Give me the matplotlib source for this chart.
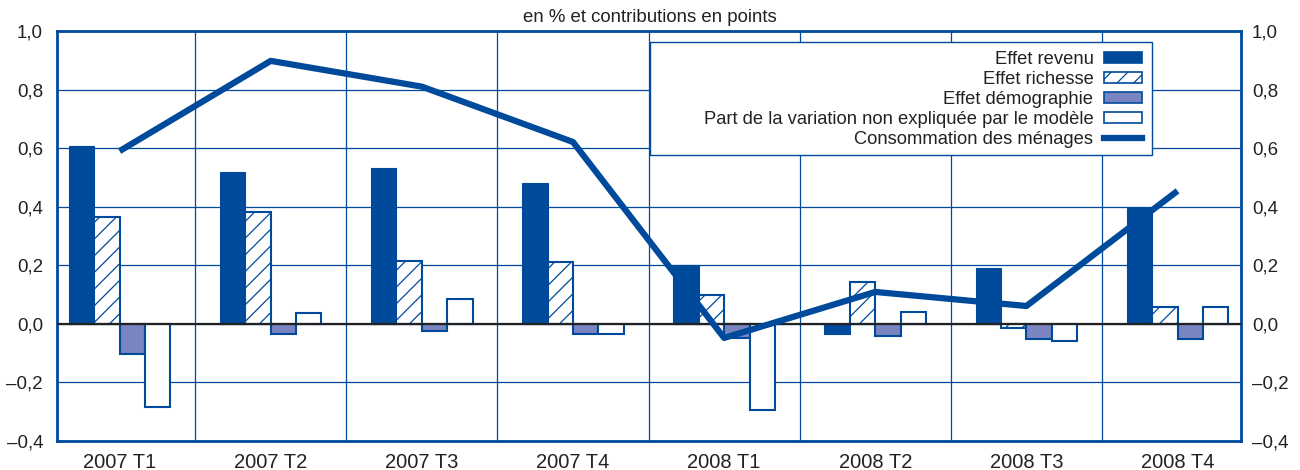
import matplotlib
matplotlib.use("Agg")
import matplotlib.pyplot as plt
import numpy as np
from matplotlib.patches import Patch, Rectangle
from matplotlib.lines import Line2D

categories = ["2007 T1", "2007 T2", "2007 T3", "2007 T4", "2008 T1", "2008 T2", "2008 T3", "2008 T4"]
effet_revenu = [0.607, 0.518, 0.532, 0.481, 0.201, -0.036, 0.192, 0.397]
effet_richesse = [0.364, 0.381, 0.213, 0.212, 0.100, 0.144, -0.014, 0.056]
effet_demo = [-0.102, -0.034, -0.025, -0.035, -0.049, -0.043, -0.052, -0.051]
part_non_expl = [-0.284, 0.036, 0.084, -0.036, -0.293, 0.039, -0.060, 0.057]
consommation = [0.590, 0.898, 0.810, 0.621, -0.048, 0.109, 0.061, 0.454]
yticks = [-0.4, -0.2, 0.0, 0.2, 0.4, 0.6, 0.8, 1.0]

plt.rcParams['font.family'] = ['Liberation Sans', 'DejaVu Sans']
plt.rcParams['hatch.color'] = '#004A9B'
plt.rcParams['hatch.linewidth'] = 0.9

BLUE = '#004A9B'
DEMO = '#7A84C0'
W, H = 1300, 470

fig = plt.figure(figsize=(13, 4.7), dpi=100)
ax = fig.add_axes([57 / W, 1 - 441 / H, (1241 - 57) / W, (441 - 31) / H])

x = np.arange(len(categories))
w = 0.168
ax.bar(x - 1.5 * w, effet_revenu, w, color=BLUE, edgecolor=BLUE, linewidth=0.8, zorder=3)
ax.bar(x - 0.5 * w, effet_richesse, w, color='white', edgecolor=BLUE, hatch='//', linewidth=1.5, zorder=3)
ax.bar(x + 0.5 * w, effet_demo, w, color=DEMO, edgecolor=BLUE, linewidth=1.5, zorder=3)
ax.bar(x + 1.5 * w, part_non_expl, w, color='white', edgecolor=BLUE, linewidth=1.5, zorder=3)
ax.plot(x, consommation, color=BLUE, linewidth=4.5, zorder=4, solid_capstyle='butt')

ax.axhline(0, color='#222222', linewidth=1.6, zorder=3.5)

ax.set_xlim(-0.414, 7.42)
ax.set_ylim(-0.4, 1.0)
ax.set_yticks(yticks)
fmt = lambda v: ("\u2013" if v < -1e-9 else "") + f"{abs(v):.1f}".replace('.', ',')
ax.set_yticklabels([fmt(v) for v in yticks])
ax.set_xticks(x)
ax.set_xticklabels(categories)
ax.set_xticks(x[:-1] + 0.5, minor=True)
ax.grid(False)
ax.grid(True, which='minor', axis='x', color=BLUE, linewidth=0.9, zorder=0)
for v in yticks:
    ax.axhline(v, color=BLUE, linewidth=0.9, zorder=0)
ax.tick_params(axis='y', which='both', length=0, labelsize=13.5, colors='#222222', pad=10)
ax.tick_params(axis='x', which='both', length=0, labelsize=14.5, colors='#222222', pad=9)
for s in ax.spines.values():
    s.set_color(BLUE)
    s.set_linewidth(2)

ax2 = ax.twinx()
ax2.set_ylim(-0.4, 1.0)
ax2.set_yticks(yticks)
ax2.set_yticklabels([fmt(v) for v in yticks])
ax2.tick_params(axis='y', length=0, labelsize=13.5, colors='#222222', pad=8)
for s in ax2.spines.values():
    s.set_visible(False)

fig.text(0.5, 1 - 18 / H, "en % et contributions en points", ha='center', va='center',
         fontsize=13.4, color='#222222')

# legend box
box = Rectangle((650 / W, 1 - 155 / H), 502 / W, 113 / H, transform=fig.transFigure,
                facecolor='white', edgecolor=BLUE, linewidth=1.0, zorder=9, clip_on=False)
ax2.add_patch(box)

handles = [
    Patch(facecolor=BLUE, edgecolor=BLUE, linewidth=1.2),
    Patch(facecolor='white', edgecolor=BLUE, hatch='//', linewidth=1.2),
    Patch(facecolor=DEMO, edgecolor=BLUE, linewidth=1.2),
    Patch(facecolor='white', edgecolor=BLUE, linewidth=1.2),
    Line2D([0], [0], color=BLUE, linewidth=4.5),
]
labels = ["Effet revenu", "Effet richesse", "Effet d\u00e9mographie",
          "Part de la variation non expliqu\u00e9e par le mod\u00e8le", "Consommation des m\u00e9nages"]
leg = ax2.legend(handles, labels, loc='upper right', bbox_to_anchor=(1142 / W, 1 - 51 / H),
                 bbox_transform=fig.transFigure,
                 markerfirst=False, fontsize=13.2, frameon=False,
                 handlelength=2.1, handleheight=0.55, labelspacing=0.16, borderpad=0,
                 handletextpad=0.55, borderaxespad=0)
for t in leg.get_texts():
    t.set_color('#222222')
leg.set_zorder(10)

fig.savefig("out.png", dpi=100)
